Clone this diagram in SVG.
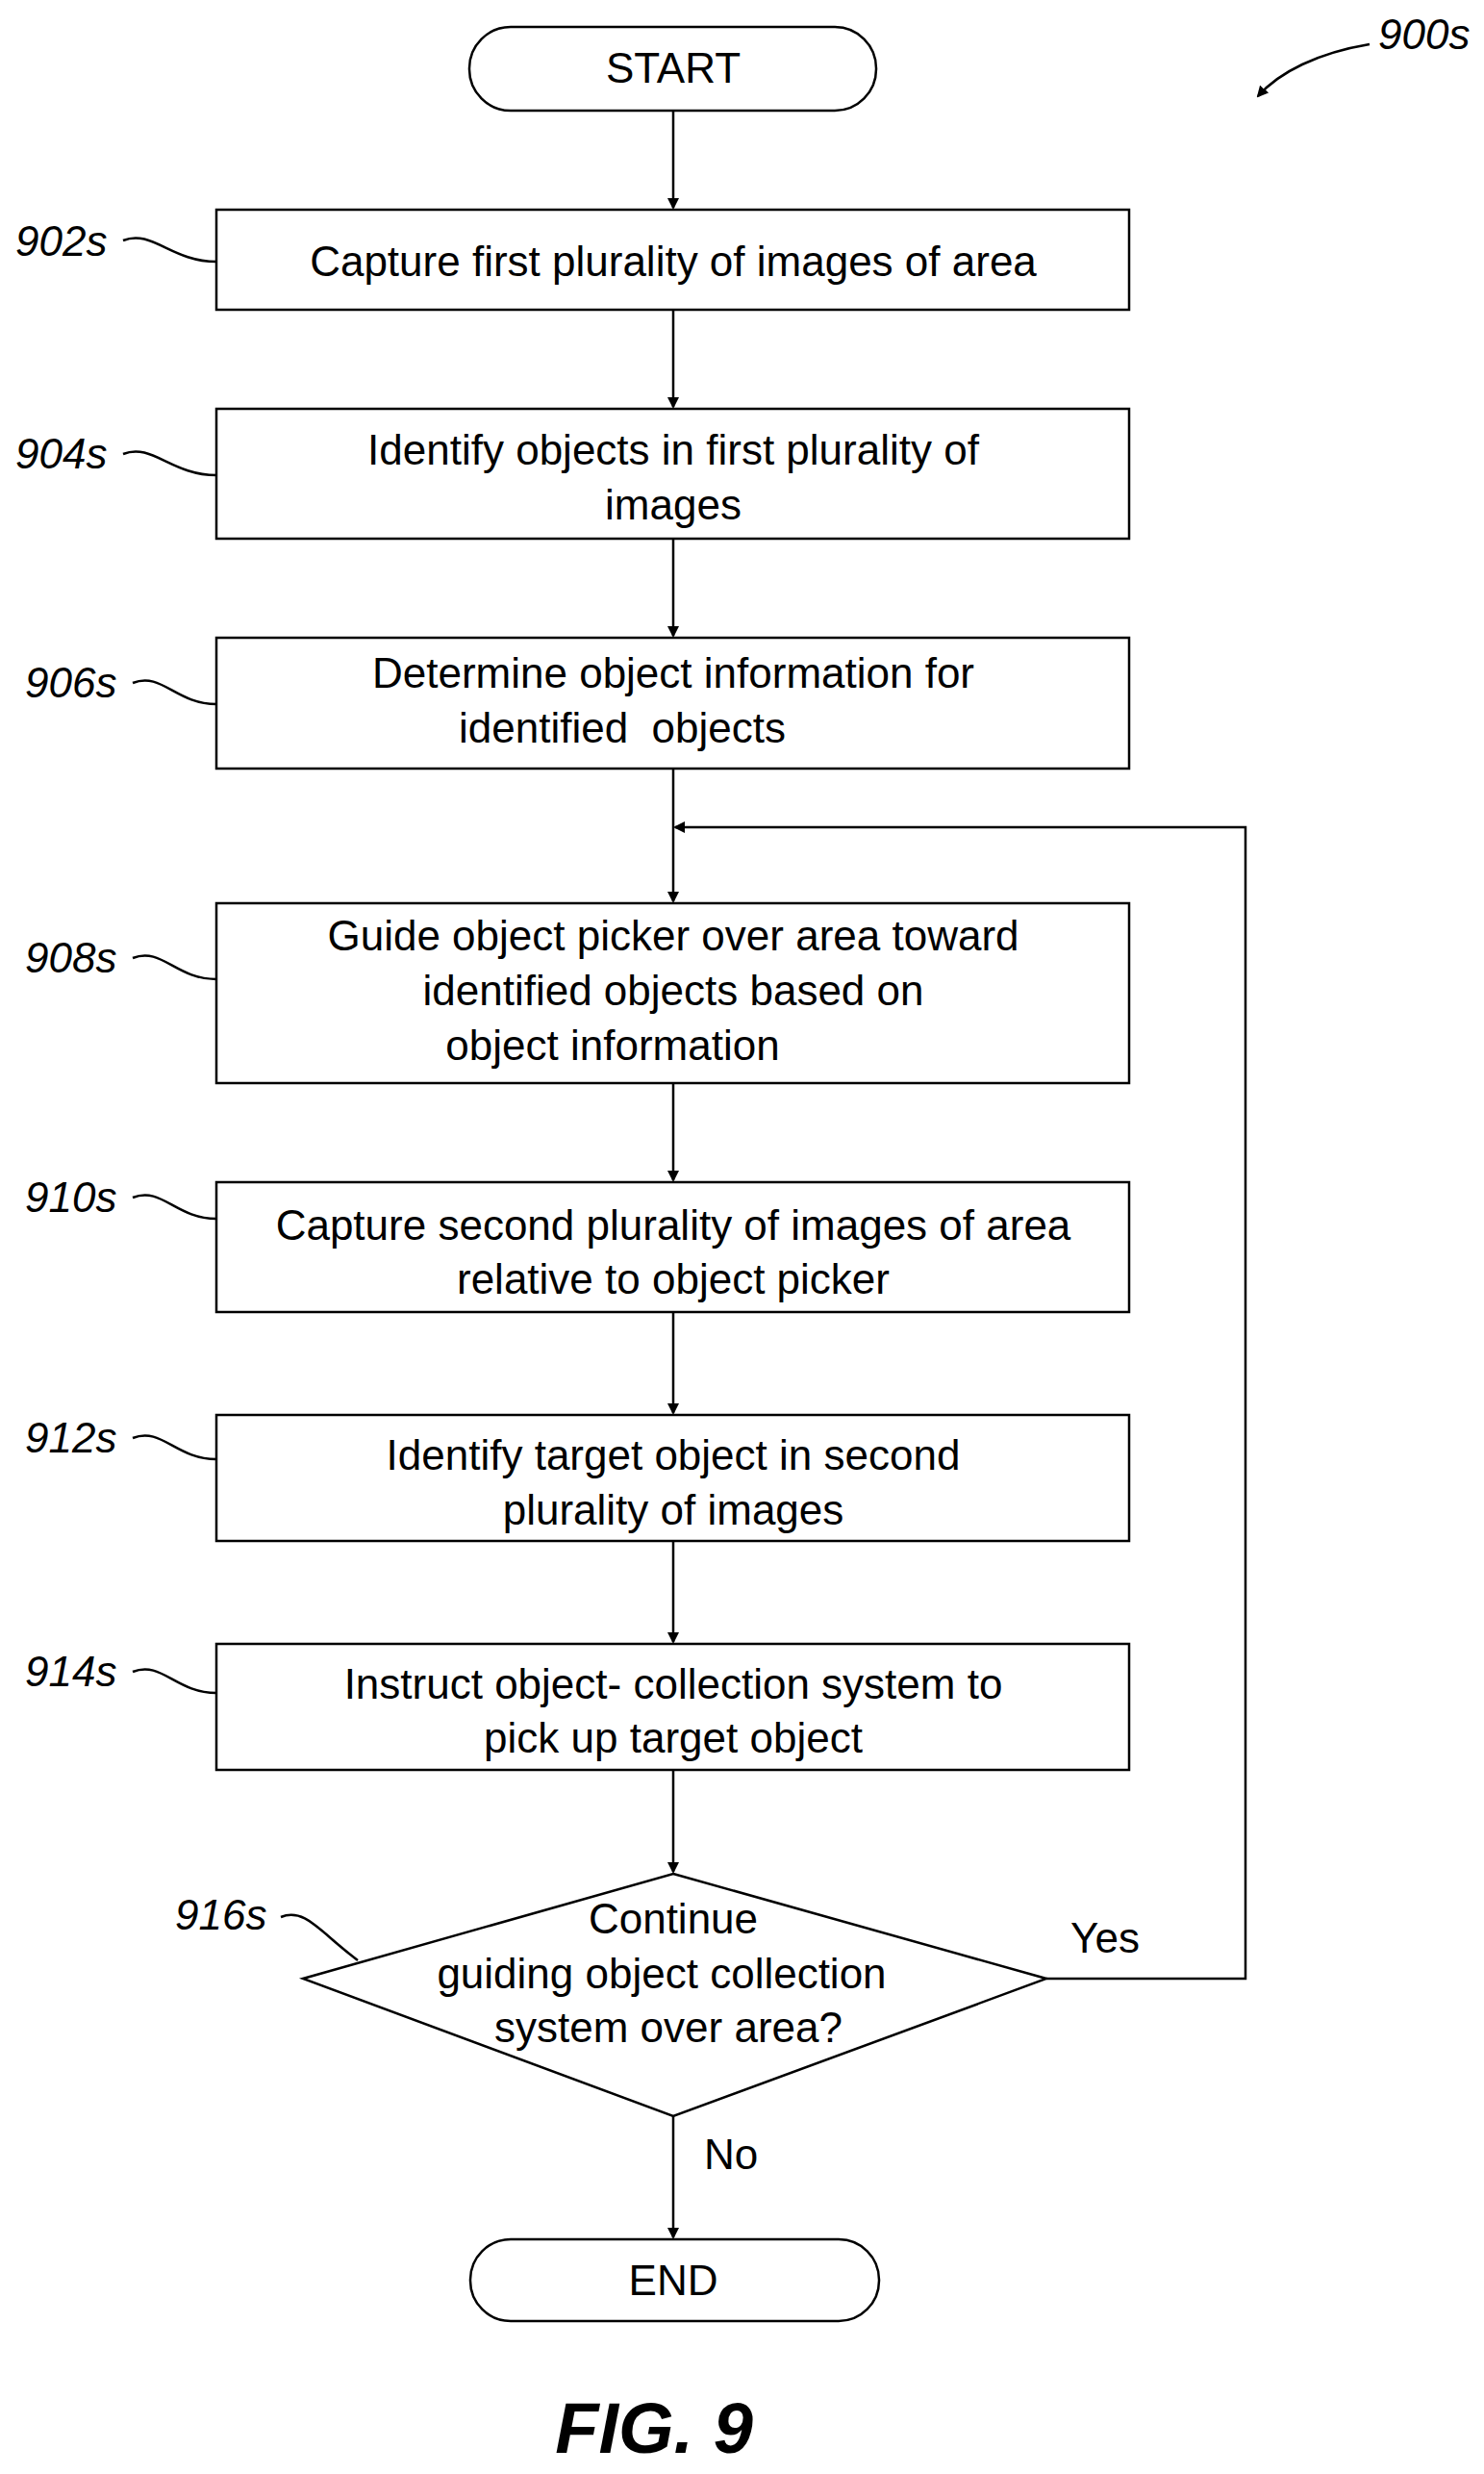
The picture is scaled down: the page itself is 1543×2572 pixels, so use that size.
<svg xmlns="http://www.w3.org/2000/svg" width="1543" height="2572" viewBox="0 0 1543 2572">
<style>
.b{fill:#fff;stroke:#000;stroke-width:2.5}
.t{font-family:"Liberation Sans",Arial,sans-serif;font-size:44px;text-anchor:middle;fill:#000}
.l{font-family:"Liberation Sans",Arial,sans-serif;font-size:44px;font-style:italic;fill:#000}
.c{fill:none;stroke:#000;stroke-width:2.5}
</style>
<defs><marker id="a" markerWidth="12" markerHeight="12" refX="10" refY="6" orient="auto" markerUnits="userSpaceOnUse"><path d="M0,0L12,6L0,12z" fill="#000"/></marker></defs>
<rect width="1543" height="2572" fill="#fff"/>
<g id="connectors">
<path class="c" d="M700,115V216" marker-end="url(#a)"/>
<path class="c" d="M700,322V423" marker-end="url(#a)"/>
<path class="c" d="M700,560V661" marker-end="url(#a)"/>
<path class="c" d="M700,799V937" marker-end="url(#a)"/>
<path class="c" d="M700,1126V1227" marker-end="url(#a)"/>
<path class="c" d="M700,1364V1469" marker-end="url(#a)"/>
<path class="c" d="M700,1602V1707" marker-end="url(#a)"/>
<path class="c" d="M700,1840V1946" marker-end="url(#a)"/>
<path class="c" d="M700,2200V2326" marker-end="url(#a)"/>
<path class="c" d="M1088,2057H1295V860H702" marker-end="url(#a)"/>
<text class="t" x="1149" y="2030">Yes</text>
<text class="t" x="760" y="2255">No</text>
</g>
<g id="start"><rect class="b" x="488" y="28" width="423" height="87" rx="43"/><text class="t" x="700" y="86">START</text></g>
<g id="n902"><rect class="b" x="225" y="218" width="949" height="104"/><text class="t" x="700" y="287">Capture first plurality of images of area</text>
<text class="l" x="16" y="266">902s</text><path class="c" d="M128,250c30,-12 50,22 97,22"/></g>
<g id="n904"><rect class="b" x="225" y="425" width="949" height="135"/><text class="t" x="700" y="483">Identify objects in first plurality of</text><text class="t" x="700" y="540">images</text>
<text class="l" x="16" y="487">904s</text><path class="c" d="M128,472c30,-12 50,22 97,22"/></g>
<g id="n906"><rect class="b" x="225" y="663" width="949" height="136"/><text class="t" x="700" y="715">Determine object information for</text><text class="t" x="647" y="772" xml:space="preserve">identified  objects</text>
<text class="l" x="26" y="725">906s</text><path class="c" d="M138,710c30,-12 45,22 87,22"/></g>
<g id="n908"><rect class="b" x="225" y="939" width="949" height="187"/><text class="t" x="700" y="988">Guide object picker over area toward</text><text class="t" x="700" y="1045">identified objects based on</text><text class="t" x="637" y="1102">object information</text>
<text class="l" x="26" y="1011">908s</text><path class="c" d="M138,996c30,-12 45,22 87,22"/></g>
<g id="n910"><rect class="b" x="225" y="1229" width="949" height="135"/><text class="t" x="700" y="1289">Capture second plurality of images of area</text><text class="t" x="700" y="1345">relative to object picker</text>
<text class="l" x="26" y="1260">910s</text><path class="c" d="M138,1245c30,-12 45,22 87,22"/></g>
<g id="n912"><rect class="b" x="225" y="1471" width="949" height="131"/><text class="t" x="700" y="1528">Identify target object in second</text><text class="t" x="700" y="1585">plurality of images</text>
<text class="l" x="26" y="1510">912s</text><path class="c" d="M138,1495c30,-12 45,22 87,22"/></g>
<g id="n914"><rect class="b" x="225" y="1709" width="949" height="131"/><text class="t" x="700" y="1766">Instruct object- collection system to</text><text class="t" x="700" y="1822">pick up target object</text>
<text class="l" x="26" y="1753">914s</text><path class="c" d="M138,1738c30,-12 45,22 87,22"/></g>
<g id="n916"><path class="b" d="M700,1948L1088,2057L700,2200L315,2057z"/><text class="t" x="700" y="2010">Continue</text><text class="t" x="688" y="2067">guiding object collection</text><text class="t" x="695" y="2123">system over area?</text>
<text class="l" x="182" y="2006">916s</text><path class="c" d="M292,1993c25,-10 40,15 80,45"/></g>
<g id="end"><rect class="b" x="489" y="2328" width="425" height="85" rx="42"/><text class="t" x="700" y="2386">END</text></g>
<g id="ref"><text class="l" x="1433" y="51">900s</text><path class="c" d="M1424,46C1370,55 1330,75 1308,100" marker-end="url(#a)"/></g>
<text x="680" y="2550" style="font-family:'Liberation Sans',Arial,sans-serif;font-size:74px;font-weight:bold;font-style:italic;text-anchor:middle">FIG. 9</text>
</svg>
